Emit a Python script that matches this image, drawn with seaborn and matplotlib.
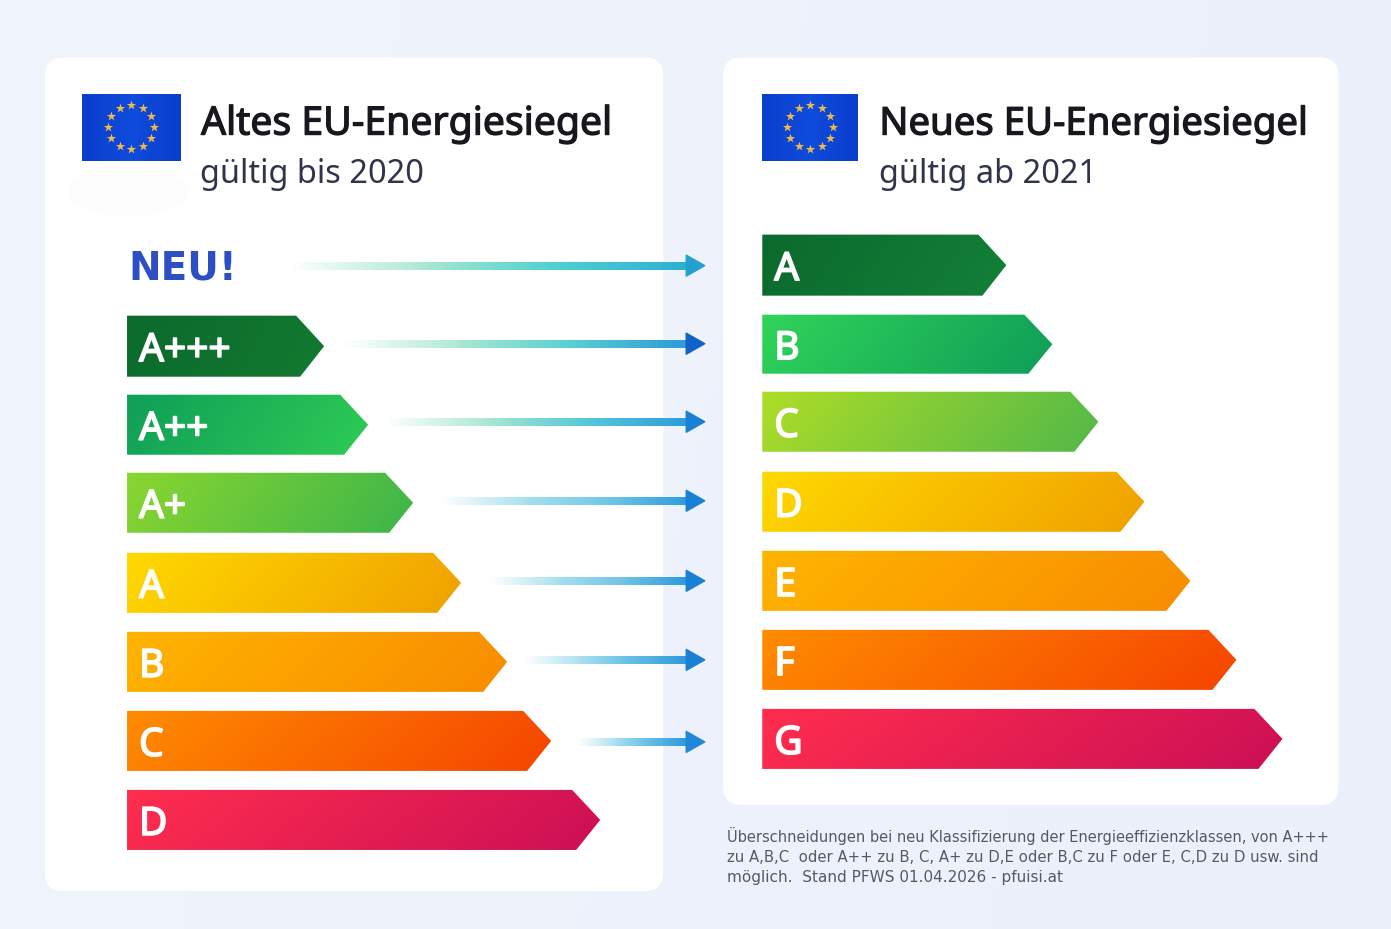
import numpy as np
import matplotlib
matplotlib.use("Agg")
import matplotlib.pyplot as plt
import matplotlib.patheffects as pe
from matplotlib.patches import FancyBboxPatch, Polygon, Rectangle, Ellipse
import seaborn as sns

sns.set_theme(style="white")
plt.rcParams["font.family"] = ["Noto Sans", "DejaVu Sans"]

# Daten
old_labels = ["A+++", "A++", "A+", "A", "B", "C", "D"]
old_lengths = [197, 241, 286, 334, 380, 424, 473]
new_labels = ["A", "B", "C", "D", "E", "F", "G"]
new_lengths = [244, 290, 336, 382, 428, 474, 520]
arrow_starts = [290, 345, 385, 440, 490, 525, 578]

# Layout
W, H = 1391, 929
old_x0, new_x0 = 127, 762
old_tops = [316, 395, 473, 553, 632, 711, 790]
new_tops = [235, 315, 392, 472, 551, 630, 709]
old_heights = [61, 60, 60, 60, 60, 60, 60]
new_heights = [61, 59, 60, 60, 60, 60, 60]
arrow_ys = [266, 344, 422, 501, 581, 660, 742]
arrow_end = 704.5

old_grads = [
    ["#0b6a2d", "#127a30"], ["#0f9f58", "#2ecb55"], ["#8ad630", "#3cb54a"],
    ["#ffd900", "#f0a000"], ["#ffb400", "#f88c00"], ["#ff8c00", "#f54400"],
    ["#ff2e4e", "#cc0f55"],
]
new_grads = [
    ["#0b6a2d", "#128038"], ["#30d45a", "#0f9d58"], ["#aedd28", "#52b848"],
    ["#ffd900", "#f0a000"], ["#ffb400", "#f88c00"], ["#ff8c00", "#f54400"],
    ["#ff2e4e", "#cc0f55"],
]
arrow_tails = ["#a8e8d0", "#a8e8d0", "#a8e8d0", "#a8e0f0", "#a8e0f0", "#a8e0f0", "#a8e0f0"]
arrow_mids = ["#4fd0d0", "#55cfd2", "#55c8d8", "#70c8e8", "#70c4e6", "#60bce4", "#60bce4"]
arrow_ends = ["#2bb0d4", "#2d9ad8", "#2d9cdc", "#2d9cdc", "#2d98da", "#2d98da", "#2d98da"]
arrow_tips = ["#22a0cf", "#0f62c8", "#1a80d4", "#1a80d4", "#1a80d4", "#1a80d4", "#1f88d8"]

note = ["Überschneidungen bei neu Klassifizierung der Energieeffizienzklassen, von A+++",
        "zu A,B,C  oder A++ zu B, C, A+ zu D,E oder B,C zu F oder E, C,D zu D usw. sind",
        "möglich.  Stand PFWS 01.04.2026 - pfuisi.at"]
note_sizes = [10.5, 10.75, 11]

fig = plt.figure(figsize=((W + 0.5) / 100, (H + 0.5) / 100), dpi=100)
ax = fig.add_axes([0, 0, 1, 1])
ax.set_axis_off()


def gradient(ax, box, colors, clip, diag=0.16):
    x0, x1, y0, y1 = box
    cmap = sns.blend_palette(colors, as_cmap=True)
    xx, yy = np.meshgrid(np.linspace(0, 1, 120), np.linspace(0, 1, 40))
    im = ax.imshow((xx + diag * yy) / (1 + diag), cmap=cmap, vmin=0, vmax=1,
                   extent=(x0, x1, y1, y0), aspect="auto", zorder=3)
    im.set_clip_path(clip)


def energy_bar(ax, x0, top, height, length, colors, label):
    tip = x0 + length
    mid = top + height / 2
    poly = Polygon([(x0, top), (tip - 28, top), (tip, mid), (tip - 24, top + height), (x0, top + height)],
                   closed=True, fc="none", ec="none", transform=ax.transData)
    ax.add_patch(poly)
    gradient(ax, (x0, tip, top, top + height), colors, poly)
    ax.text(x0 + 12, mid + 15, label, color="white", fontsize=28, zorder=5,
            ha="left", va="baseline",
            path_effects=[pe.withStroke(linewidth=1.2, foreground="white")])


def flag(ax, x0, x1):
    y0, y1 = 94, 161
    rect = Rectangle((x0, y0), x1 - x0, y1 - y0, fc="none", ec="none")
    ax.add_patch(rect)
    gradient(ax, (x0, x1, y0, y1), ["#0a3ecc", "#0f4bdc", "#0a3ecc"], rect, diag=0.0)
    ang = np.deg2rad(np.arange(0, 360, 30))
    cx, cy = (x0 + x1) / 2, 127.5
    ax.scatter(cx + 23 * np.cos(ang), cy + 22 * np.sin(ang), marker="*", s=50,
               c="#eeba48", linewidths=0, zorder=5)


def arrow(ax, x0, y, tail, mid, end, tip):
    head = 686
    shaft = Rectangle((x0, y - 4), head - x0 + 2, 8, fc="none", ec="none")
    ax.add_patch(shaft)
    cols = sns.blend_palette([tail, tail, mid, end], 200)
    rgba = np.ones((1, 200, 4))
    rgba[0, :, :3] = cols
    rgba[0, :, 3] = np.clip(np.linspace(0, 1, 200) / 0.35, 0, 1)
    im = ax.imshow(rgba, extent=(x0, head + 2, y + 4, y - 4), aspect="auto", zorder=3)
    im.set_clip_path(shaft)
    ax.add_patch(Polygon([(head, y - 10.5), (arrow_end, y), (head, y + 10.5)], closed=True,
                         fc=tip, ec=tip, lw=1, joinstyle="round", zorder=4))


# Hintergrund und Karten
bg = Rectangle((0, 0), W, H, fc="none", ec="none")
ax.add_patch(bg)
gradient(ax, (0, W, 0, H), ["#f0f4fb", "#ecf0fb"], bg)
for x0, x1, y0, y1 in [(45, 663, 58, 891), (723, 1338, 58, 805)]:
    ax.add_patch(FancyBboxPatch((x0 + 18, y0 + 18), x1 - x0 - 36, y1 - y0 - 36,
                                boxstyle="round,pad=18,rounding_size=18",
                                fc="white", ec="none", zorder=3))
for im_ in ax.images:
    im_.set_zorder(1)
ax.add_patch(Ellipse((128, 192), 122, 50, fc="#fdfdfe", ec="none", zorder=3))

# Kopf
flag(ax, 82, 180.5)
flag(ax, 762, 857.5)
heavy = [pe.withStroke(linewidth=0.9, foreground="#16181d")]
ax.text(201, 135, "Altes EU-Energiesiegel", fontsize=28.2, color="#16181d", zorder=5, path_effects=heavy)
ax.text(200, 183, "gültig bis 2020", fontsize=23.4, color="#30344a", zorder=5)
ax.text(879, 135, "Neues EU-Energiesiegel", fontsize=27.6, color="#16181d", zorder=5, path_effects=heavy)
ax.text(879, 183, "gültig ab 2021", fontsize=23.4, color="#30344a", zorder=5)
ax.text(128, 279, "NEU!", fontsize=28, fontweight="bold", color="#2c4fc4", family="DejaVu Sans", zorder=5)

# Balken
for lab, ln, top, h, cols in zip(old_labels, old_lengths, old_tops, old_heights, old_grads):
    energy_bar(ax, old_x0, top, h, ln, cols, lab)
for lab, ln, top, h, cols in zip(new_labels, new_lengths, new_tops, new_heights, new_grads):
    energy_bar(ax, new_x0, top, h, ln, cols, lab)

# Pfeile
for i, y in enumerate(arrow_ys):
    arrow(ax, arrow_starts[i], y, arrow_tails[i], arrow_mids[i], arrow_ends[i], arrow_tips[i])

# Fussnote
for i, (line, size) in enumerate(zip(note, note_sizes)):
    ax.text(727, 842 + 20 * i, line, fontsize=size, color="#555a62", family="DejaVu Sans", zorder=5)

ax.set_xlim(0, W)
ax.set_ylim(H, 0)
fig.savefig("out.png", dpi=100)
plt.close(fig)
